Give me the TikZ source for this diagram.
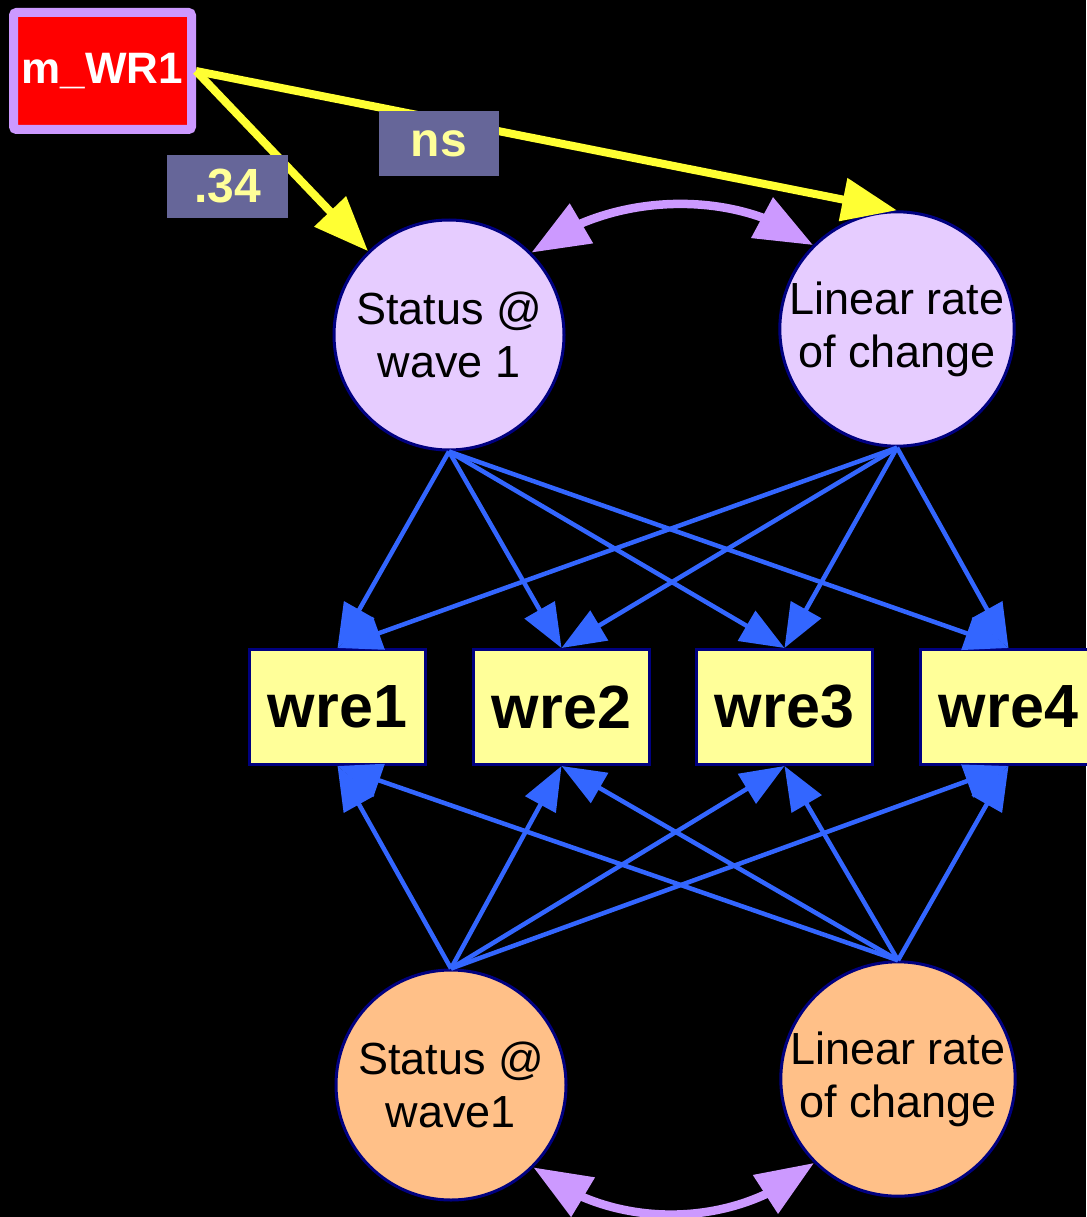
\documentclass[tikz,border=0pt]{standalone}
\usepackage{fontspec}
\setmainfont{Liberation Sans}
\usetikzlibrary{arrows.meta,bending}
\definecolor{lavtop}{HTML}{E6CCFF}
\definecolor{peach}{HTML}{FFC088}
\definecolor{pyellow}{HTML}{FFFF99}
\definecolor{navyb}{HTML}{000080}
\definecolor{bluea}{HTML}{3366FF}
\definecolor{yela}{HTML}{FFFF33}
\definecolor{lava}{HTML}{CC99FF}
\definecolor{labfill}{HTML}{666699}
\begin{document}
\begin{tikzpicture}[x=1pt,y=-1pt,
  latent/.style={circle, draw=navyb, line width=3pt, minimum size=230pt, inner sep=0pt,
    align=center, font=\fontsize{45}{53}\selectfont, text=black},
  obs/.style={rectangle, draw=navyb, line width=3pt, fill=pyellow, minimum width=176pt,
    minimum height=115pt, inner sep=0pt, font=\fontsize{61}{70}\selectfont\bfseries},
  lab/.style={rectangle, fill=labfill, inner sep=0pt, text=pyellow,
    font=\fontsize{48}{56}\selectfont\bfseries},
  barrow/.style={draw=bluea, line width=4.5pt, -{Triangle[length=44pt,width=34pt]}},
  yarrow/.style={draw=yela, line width=8pt, -{Triangle[length=55pt,width=42pt]}},
  larrow/.style={draw=lava, line width=8.5pt, {Triangle[length=58pt,width=44pt]}-{Triangle[length=58pt,width=44pt]}},
]
\fill[black] (0,0) rectangle (1086,1217);
\useasboundingbox (0,0) rectangle (1086,1217);

% latent variables
\node[latent, fill=lavtop] (tl) at (449,335) {Status @\\wave 1};
\node[latent, fill=lavtop] (tr) at (897,329) {Linear rate\\of change};
\node[latent, fill=peach] (bl) at (451,1085) {Status @\\wave1};
\node[latent, fill=peach] (br) at (898,1079) {Linear rate\\of change};

% observed
\node[obs] (w1) at (337.5,707) {wre1};
\node[obs] (w2) at (561.5,707) {wre2};
\node[obs] (w3) at (784.5,707) {wre3};
\node[obs] (w4) at (1008.5,707) {wre4};

% predictor
\node[rectangle, draw=lava, fill=red, line width=9pt, rounded corners=3pt,
  minimum width=178pt, minimum height=117pt, inner sep=0pt, text=white,
  font=\fontsize{44}{50}\selectfont\bfseries] (m) at (102.5,71) {m\_WR1};

% blue loadings
\foreach \w in {w1,w2,w3,w4}{
  \draw[barrow] (tl.south) -- (\w.north);
  \draw[barrow] (tr.south) -- (\w.north);
  \draw[barrow] (bl.north) -- (\w.south);
  \draw[barrow] (br.north) -- (\w.south);
}

% yellow regressions
\draw[yarrow] (m.east) -- (tl.134);
\draw[yarrow] (m.east) -- (tr.north);

% labels
\node[lab, minimum width=121pt, minimum height=63pt] (l34) at (227.5,186.5) {.34};
\node[lab, minimum width=120pt, minimum height=65pt] (lns) at (439,143.5) {ns};

% covariances
\draw[larrow] (tl.45) .. controls (610,190) and (740,188) .. (tr.135);
\draw[larrow] (bl.-45) .. controls (612,1232) and (738,1230) .. (br.-135);
\end{tikzpicture}
\end{document}
